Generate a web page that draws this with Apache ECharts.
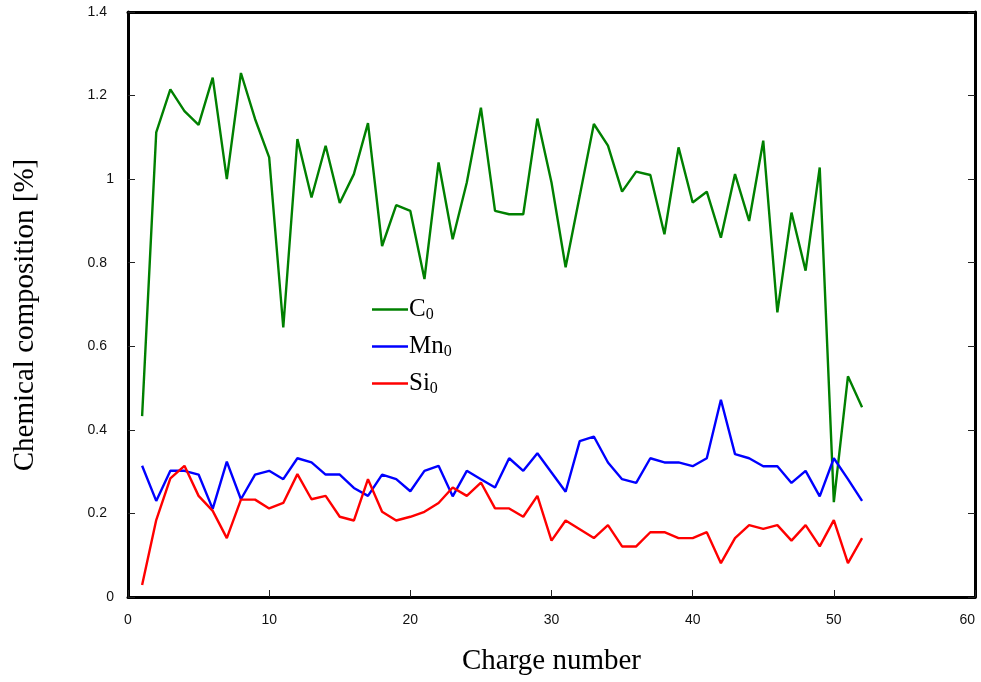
<!DOCTYPE html>
<html><head><meta charset="utf-8">
<script src="https://cdn.jsdelivr.net/npm/echarts@6/dist/echarts.min.js"></script>
<style>html,body{margin:0;padding:0;background:#fff}#c{width:981px;height:682px}</style>
</head><body><div id="c"></div>
<script>
const charges = [1,2,3,4,5,6,7,8,9,10,11,12,13,14,15,16,17,18,19,20,21,22,23,24,25,26,27,28,29,30,31,32,33,34,35,36,37,38,39,40,41,42,43,44,45,46,47,48,49,50,51,52];
const C0 = [0.433,1.112,1.215,1.163,1.13,1.243,1.0,1.254,1.144,1.052,0.645,1.096,0.956,1.08,0.943,1.012,1.134,0.84,0.938,0.924,0.761,1.04,0.856,0.992,1.171,0.924,0.916,0.916,1.145,0.992,0.789,0.96,1.132,1.08,0.97,1.018,1.01,0.868,1.076,0.944,0.97,0.86,1.012,0.9,1.092,0.681,0.92,0.781,1.028,0.227,0.528,0.454];
const Mn0 = [0.314,0.23,0.302,0.302,0.293,0.211,0.324,0.234,0.293,0.302,0.282,0.332,0.322,0.293,0.293,0.261,0.242,0.293,0.282,0.253,0.302,0.314,0.241,0.302,0.282,0.262,0.332,0.302,0.344,0.298,0.252,0.373,0.384,0.322,0.282,0.273,0.332,0.322,0.322,0.313,0.332,0.472,0.342,0.332,0.313,0.313,0.273,0.302,0.241,0.332,0.282,0.23];
const Si0 = [0.029,0.184,0.284,0.314,0.242,0.206,0.141,0.233,0.233,0.212,0.225,0.294,0.234,0.242,0.192,0.183,0.282,0.204,0.183,0.192,0.204,0.225,0.262,0.242,0.274,0.212,0.212,0.192,0.242,0.135,0.183,0.162,0.141,0.172,0.121,0.121,0.155,0.155,0.141,0.141,0.155,0.081,0.141,0.172,0.163,0.172,0.135,0.172,0.121,0.184,0.081,0.141];
const xTicks = [0,10,20,30,40,50,60];
const yTicks = [0,0.2,0.4,0.6,0.8,1,1.2,1.4];

const names = ['C0','Mn0','Si0'];
const colors = ['#008000','#0000ff','#ff0000'];
const seriesVals = [C0, Mn0, Si0];

const chart = echarts.init(document.getElementById('c'), null, {renderer:'canvas'});
const axisLineStyle = {color:'#000', width:3};
const tickStyle = {color:'#222', width:1};
chart.setOption({
  animation:false,
  backgroundColor:'#fff',
  grid:{left:128, right:6, top:12, bottom:85, show:false, containLabel:false, outerBoundsMode:'none'},
  legend:{
    left:367, top:292, orient:'vertical', itemGap:11, itemWidth:36, itemHeight:14,
    icon:'path://M0,5.8 L36,5.8 L36,8.2 L0,8.2 Z',
    data:names,
    formatter:function(n){ const base=n.slice(0,-1), sub=n.slice(-1); return '{a|'+base+'}{b|'+sub+'}'; },
    textStyle:{padding:[0,0,0,-4], rich:{
      a:{fontFamily:'Liberation Serif', fontSize:25, color:'#000'},
      b:{fontFamily:'Liberation Serif', fontSize:16, color:'#000', padding:[11,0,0,0]}
    }}
  },
  graphic:[{
    type:'text', x:25, y:315, rotation:Math.PI/2,
    style:{text:'Chemical composition [%]', font:'29px "Liberation Serif"', fill:'#000', align:'center', verticalAlign:'middle'}
  }],
  xAxis:[{
    type:'value', min:0, max:60, interval:10, position:'bottom',
    name:'Charge number', nameLocation:'middle', nameGap:50,
    nameTextStyle:{fontFamily:'Liberation Serif', fontSize:29, color:'#000'},
    axisLine:{show:true, onZero:false, lineStyle:axisLineStyle},
    axisTick:{show:true, inside:true, length:7, lineStyle:tickStyle},
    axisLabel:{fontFamily:'Liberation Sans', fontSize:14, color:'#111', margin:16, alignMaxLabel:'right'},
    splitLine:{show:false}
  },{
    type:'value', min:0, max:60, interval:10, position:'top',
    axisLine:{show:true, onZero:false, lineStyle:axisLineStyle},
    axisTick:{show:false}, axisLabel:{show:false}, splitLine:{show:false}
  }],
  yAxis:[{
    type:'value', min:0, max:1.4, interval:0.2, position:'left',
    axisLine:{show:true, onZero:false, lineStyle:axisLineStyle},
    axisTick:{show:true, inside:true, length:7, lineStyle:tickStyle},
    axisLabel:{fontFamily:'Liberation Sans', fontSize:14, color:'#111', margin:14,
      formatter:function(v){ const s=String(Math.round(v*10)/10); return s.indexOf('.')>=0 ? '{d|'+s+'}{s|}' : '{d|'+s+'}'; },
      rich:{d:{fontFamily:'Liberation Sans', fontSize:14, color:'#111'}, s:{width:7}}
    },
    splitLine:{show:false}
  },{
    type:'value', min:0, max:1.4, interval:0.2, position:'right',
    axisLine:{show:true, onZero:false, lineStyle:axisLineStyle},
    axisTick:{show:true, inside:true, length:7, lineStyle:tickStyle},
    axisLabel:{show:false}, splitLine:{show:false}
  }],
  series: names.map(function(n,i){
    return {
      name:n, type:'line', xAxisIndex:0, yAxisIndex:0,
      data: charges.map(function(c,k){ return [c, seriesVals[i][k]]; }),
      showSymbol:false, symbol:'none',
      lineStyle:{color:colors[i], width:2.4},
      itemStyle:{color:colors[i]}
    };
  })
});
</script></body></html>
